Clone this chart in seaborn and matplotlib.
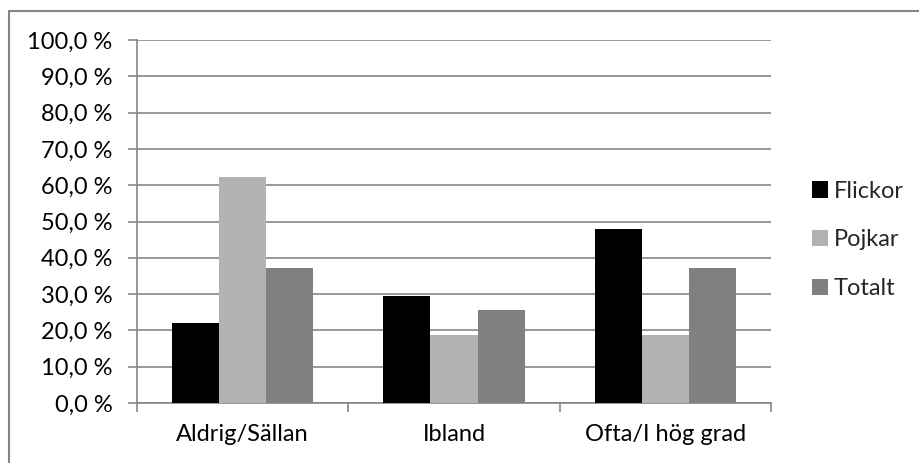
import matplotlib
matplotlib.use("Agg")
import matplotlib.pyplot as plt
from matplotlib.lines import Line2D
from matplotlib.ticker import FixedLocator, FuncFormatter
import seaborn as sns
import pandas as pd

categories = ["Aldrig/Sällan", "Ibland", "Ofta/I hög grad"]
flickor = [22.1, 29.6, 48.0]
pojkar = [62.3, 18.6, 18.6]
totalt = [37.1, 25.5, 37.1]
series = ["Flickor", "Pojkar", "Totalt"]
colors = ["#000000", "#b2b2b2", "#808080"]
y_ticks = [0, 10, 20, 30, 40, 50, 60, 70, 80, 90, 100]

rows = []
for name, vals in zip(series, [flickor, pojkar, totalt]):
    for cat, v in zip(categories, vals):
        rows.append({"Kategori": cat, "Grupp": name, "Andel": v})
df = pd.DataFrame(rows)

sns.set_style("white")
plt.rcParams["font.family"] = ["Lato", "DejaVu Sans"]
FS = 17

fig = plt.figure(figsize=(9.19, 4.63), dpi=100)
ax = fig.add_axes([137 / 919, 1 - 403 / 463, (771 - 137) / 919, (403 - 40) / 463])

sns.barplot(data=df, x="Kategori", y="Andel", hue="Grupp", hue_order=series,
            order=categories, palette=colors, width=0.67, gap=0,
            saturation=1, edgecolor="none", linewidth=0, ax=ax, zorder=3,
            errorbar=None)

axis_color = "#868686"
ax.set_ylim(0, 100)
ax.set_xlim(-0.5, 2.5)
ax.yaxis.set_major_locator(FixedLocator(y_ticks))
ax.yaxis.set_major_formatter(FuncFormatter(lambda v, p: f"{v:.1f}".replace(".", ",") + " %"))
ax.grid(axis="y", color=axis_color, linewidth=1.2, zorder=0)
ax.set_axisbelow(True)
for s in ["top", "right"]:
    ax.spines[s].set_visible(False)
for s in ["left", "bottom"]:
    ax.spines[s].set_color(axis_color)
    ax.spines[s].set_linewidth(1.2)

ax.set_xlabel("")
ax.set_ylabel("")
ax.tick_params(axis="y", which="major", length=6.5, width=1.2, color=axis_color,
               labelsize=FS, pad=11, left=True, labelcolor="#000000")
ax.tick_params(axis="x", which="major", length=0, labelsize=FS, pad=15, labelcolor="#000000")
ax.set_xticks([0, 1, 2])
ax.set_xticklabels(categories)
ax.set_xticks([-0.5, 0.5, 1.5, 2.5], minor=True)
ax.tick_params(axis="x", which="minor", length=6.5, width=1.2, color=axis_color, bottom=True)

handles, labels = ax.get_legend_handles_labels()
ax.legend(handles, labels, loc="center left", bbox_to_anchor=(812 / 919, 1 - 240 / 463),
          bbox_transform=fig.transFigure, frameon=False, fontsize=FS,
          handlelength=0.68, handleheight=0.68, handletextpad=0.25,
          labelspacing=1.17, borderaxespad=0, borderpad=0)

# outer frame: top and left edges
fig.add_artist(Line2D([9 / 919, 9 / 919], [0, 1 - 10.5 / 463], transform=fig.transFigure,
                      color="#868686", linewidth=1.5))
fig.add_artist(Line2D([9 / 919, 1], [1 - 10.5 / 463, 1 - 10.5 / 463], transform=fig.transFigure,
                      color="#868686", linewidth=1.5))

fig.savefig("out.png", dpi=100)
